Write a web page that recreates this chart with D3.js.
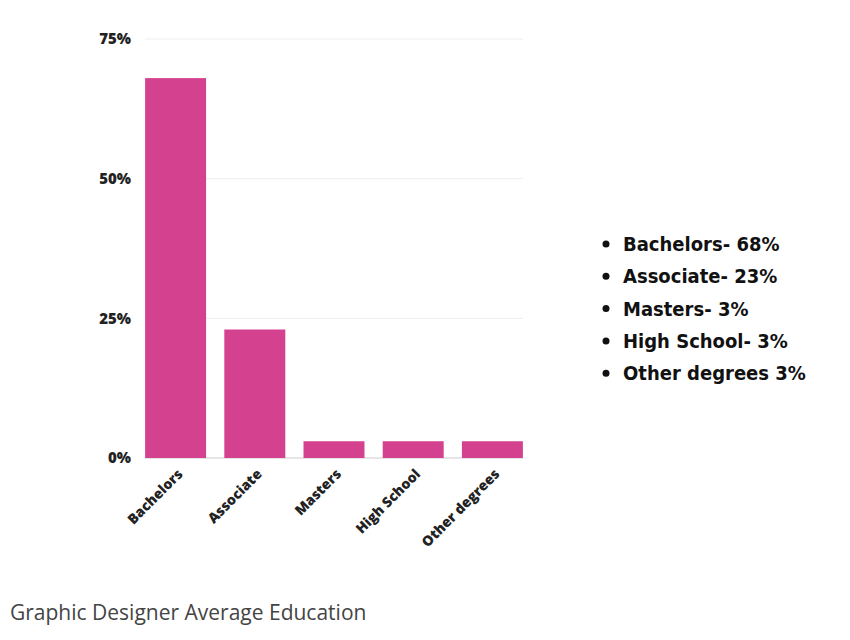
<!DOCTYPE html>
<html><head><meta charset="utf-8">
<script src="https://cdn.jsdelivr.net/npm/d3@7"></script>
<style>body{margin:0;background:#fff}</style>
</head><body>
<script>
const categories = ["Bachelors","Associate","Masters","High School","Other degrees"];
const values = [68,23,3,3,3];
const yTicks = [0,25,50,75];
const legendItems = ["Bachelors- 68%","Associate- 23%","Masters- 3%","High School- 3%","Other degrees 3%"];
const caption = "Graphic Designer Average Education";

const svg = d3.select("body").append("svg").attr("width",850).attr("height",640);
const x = d3.scaleBand().domain(categories).range([136,532]).paddingInner(0.23).paddingOuter(0.115);
const y = d3.scaleLinear().domain([0,75]).range([458,39]);

svg.append("g").selectAll("line").data(yTicks).join("line")
  .attr("x1",145).attr("x2",523).attr("y1",d=>y(d)).attr("y2",d=>y(d))
  .attr("stroke",d=>d===0?"#ccc":"#eee").attr("stroke-width",1);
svg.append("g").selectAll("text").data(yTicks).join("text")
  .attr("x",131).attr("y",d=>y(d)).attr("dy","0.35em").attr("text-anchor","end")
  .attr("font-family","Open Sans").attr("font-weight",800).attr("font-size",15).attr("fill","#222")
  .text(d=>d+"%");

svg.append("g").selectAll("rect").data(values).join("rect")
  .attr("x",(d,i)=>x(categories[i])).attr("width",x.bandwidth())
  .attr("y",d=>y(d)).attr("height",d=>y(0)-y(d)).attr("fill","#d4418e");

svg.append("g").selectAll("text").data(categories).join("text")
  .attr("transform",d=>`translate(${x(d)+x.bandwidth()/2+8},${475}) rotate(-45)`)
  .attr("text-anchor","end").attr("font-family","Open Sans").attr("font-weight",800)
  .attr("font-size",14).attr("fill","#222").text(d=>d);

const lg = svg.append("g").selectAll("g").data(legendItems).join("g")
  .attr("transform",(d,i)=>`translate(0,${244+i*32.3})`);
lg.append("circle").attr("cx",606).attr("cy",0).attr("r",3.5).attr("fill","#111");
lg.append("text").attr("x",623).attr("dy","0.35em").attr("font-family","DejaVu Sans Condensed, DejaVu Sans")
  .attr("font-weight","bold").attr("font-size",20).attr("fill","#111").text(d=>d);

svg.append("text").attr("x",10).attr("y",620).attr("font-family","Open Sans")
  .attr("font-size",21).attr("fill","#444").text(caption);
</script>
</body></html>
